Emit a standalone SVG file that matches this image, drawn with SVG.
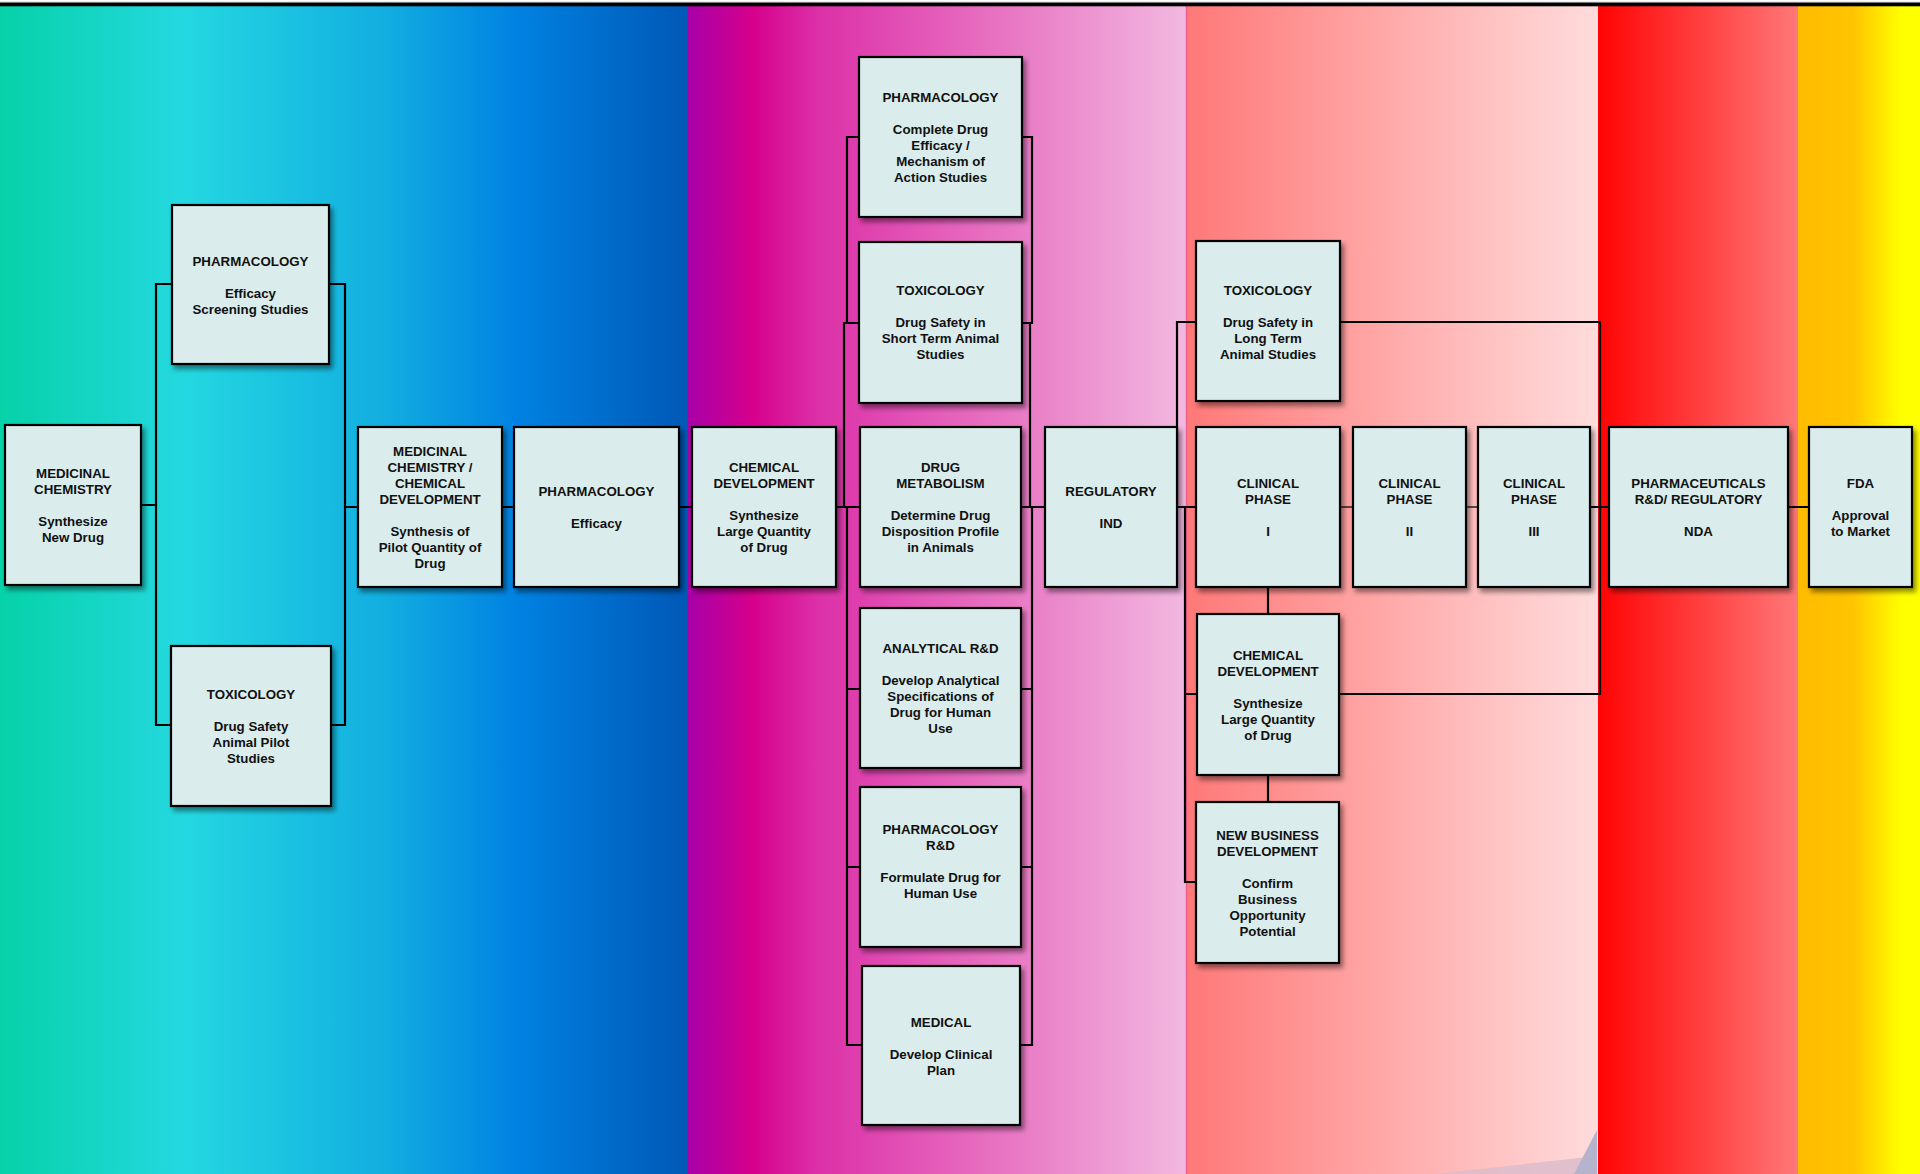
<svg xmlns="http://www.w3.org/2000/svg" width="1920" height="1174" viewBox="0 0 1920 1174">
<style>
.box{fill:#daecec;stroke:#000;stroke-width:2.2;filter:url(#sh)}
.t{font-family:"Liberation Sans",Arial,Helvetica,sans-serif;font-weight:bold;font-size:13.3px;fill:#111;text-anchor:middle}
.c{fill:none;stroke:#000;stroke-width:2.2}
.c2{fill:none;stroke:#222;stroke-width:1.6}
</style>
<defs>
<filter id="sh" x="-10%" y="-10%" width="130%" height="130%">
<feDropShadow dx="3" dy="4" stdDeviation="2.5" flood-color="#000" flood-opacity="0.45"/>
</filter>
<linearGradient id="g1" x1="0" x2="1" y1="0" y2="0">
<stop offset="0" stop-color="#06d2a8"/>
<stop offset="0.266" stop-color="#24d8e0"/>
<stop offset="0.56" stop-color="#12aee0"/>
<stop offset="0.75" stop-color="#0082e2"/>
<stop offset="1" stop-color="#0058b6"/>
</linearGradient>
<linearGradient id="g2" x1="0" x2="1" y1="0" y2="0">
<stop offset="0" stop-color="#a800a8"/>
<stop offset="0.13" stop-color="#d6008c"/>
<stop offset="0.26" stop-color="#dc30a8"/>
<stop offset="0.63" stop-color="#e874c2"/>
<stop offset="1" stop-color="#f2b8e0"/>
</linearGradient>
<linearGradient id="g3" x1="0" x2="1" y1="0" y2="0">
<stop offset="0" stop-color="#ff7878"/>
<stop offset="1" stop-color="#ffdcdc"/>
</linearGradient>
<linearGradient id="g4" x1="0" x2="1" y1="0" y2="0">
<stop offset="0" stop-color="#ff0404"/>
<stop offset="1" stop-color="#ff7878"/>
</linearGradient>
<linearGradient id="g5" x1="0" x2="1" y1="0" y2="0">
<stop offset="0" stop-color="#ffbc00"/>
<stop offset="0.45" stop-color="#ffc400"/>
<stop offset="0.85" stop-color="#ffff00"/>
<stop offset="1" stop-color="#ffff00"/>
</linearGradient>
</defs>

<g id="background">
<rect x="0" y="0" width="1920" height="1174" fill="#fff"/>
<rect x="0" y="6" width="688" height="1168" fill="url(#g1)"/>
<rect x="688" y="6" width="498" height="1168" fill="url(#g2)"/>
<rect x="1186" y="6" width="412" height="1168" fill="url(#g3)"/>
<rect x="1598" y="6" width="200" height="1168" fill="url(#g4)"/>
<rect x="1798" y="6" width="122" height="1174" fill="url(#g5)"/>
<line x1="1186.5" y1="6" x2="1186.5" y2="1174" stroke="#f0608c" stroke-width="1.5"/>
<polygon points="1435,1174 1597,1156 1597,1174" fill="#dcbccb" opacity="0.85"/>
<polygon points="1574,1174 1597,1130 1597,1174" fill="#b6b4cc"/>
<rect x="0" y="1.8" width="1920" height="1" fill="#999"/>
<rect x="0" y="2.7" width="1920" height="3.6" fill="#000"/>
</g>

<g id="connectors">
<path class="c" d="M141,505 H156 M172,284 H156 V725 H171 M329,284 H345 V725 H331 M345,507 H358 M502,507 H514 M679,507 H692"/>
<path class="c" d="M836,507 H860 M859,137 H847 V323 M859,323 H844 V507 M847,507 V1045 H862 M847,689 H860 M847,867 H860"/>
<path class="c" d="M1022,137 H1032 V323 H1022 M1030,323 V507 M1032,507 V1045 H1020 M1021,689 H1032 M1021,867 H1032 M1021,507 H1045"/>
<path class="c" d="M1177,507 H1196 M1196,322 H1177 V507 M1185,507 V882 H1196 M1185,694 H1197 M1590,507 H1609 M1340,322 H1600 V694 H1339 M1268,587 V614 M1268,775 V802 M1788,507 H1809"/>
<path class="c2" d="M1340,507 H1353 M1466,507 H1478"/>
</g>

<g id="n_medchem"><rect class="box" x="5" y="425" width="136" height="160"/>
<text class="t"><tspan x="73" y="478">MEDICINAL</tspan><tspan x="73" y="494">CHEMISTRY</tspan><tspan x="73" y="526">Synthesize</tspan><tspan x="73" y="542">New Drug</tspan></text></g>

<g id="n_pharm1"><rect class="box" x="172" y="205" width="157" height="159"/>
<text class="t"><tspan x="250.5" y="266">PHARMACOLOGY</tspan><tspan x="250.5" y="298">Efficacy</tspan><tspan x="250.5" y="314">Screening Studies</tspan></text></g>

<g id="n_tox1"><rect class="box" x="171" y="646" width="160" height="160"/>
<text class="t"><tspan x="251" y="699">TOXICOLOGY</tspan><tspan x="251" y="731">Drug Safety</tspan><tspan x="251" y="747">Animal Pilot</tspan><tspan x="251" y="763">Studies</tspan></text></g>

<g id="n_mccd"><rect class="box" x="358" y="427" width="144" height="160"/>
<text class="t"><tspan x="430" y="456">MEDICINAL</tspan><tspan x="430" y="472">CHEMISTRY /</tspan><tspan x="430" y="488">CHEMICAL</tspan><tspan x="430" y="504">DEVELOPMENT</tspan><tspan x="430" y="536">Synthesis of</tspan><tspan x="430" y="552">Pilot Quantity of</tspan><tspan x="430" y="568">Drug</tspan></text></g>

<g id="n_pharm2"><rect class="box" x="514" y="427" width="165" height="160"/>
<text class="t"><tspan x="596.5" y="496">PHARMACOLOGY</tspan><tspan x="596.5" y="528">Efficacy</tspan></text></g>

<g id="n_chemdev1"><rect class="box" x="692" y="427" width="144" height="160"/>
<text class="t"><tspan x="764" y="472">CHEMICAL</tspan><tspan x="764" y="488">DEVELOPMENT</tspan><tspan x="764" y="520">Synthesize</tspan><tspan x="764" y="536">Large Quantity</tspan><tspan x="764" y="552">of Drug</tspan></text></g>

<g id="n_pharm3"><rect class="box" x="859" y="57" width="163" height="160"/>
<text class="t"><tspan x="940.5" y="102">PHARMACOLOGY</tspan><tspan x="940.5" y="134">Complete Drug</tspan><tspan x="940.5" y="150">Efficacy /</tspan><tspan x="940.5" y="166">Mechanism of</tspan><tspan x="940.5" y="182">Action Studies</tspan></text></g>

<g id="n_tox2"><rect class="box" x="859" y="242" width="163" height="161"/>
<text class="t"><tspan x="940.5" y="295">TOXICOLOGY</tspan><tspan x="940.5" y="327">Drug Safety in</tspan><tspan x="940.5" y="343">Short Term Animal</tspan><tspan x="940.5" y="359">Studies</tspan></text></g>

<g id="n_drugmet"><rect class="box" x="860" y="427" width="161" height="160"/>
<text class="t"><tspan x="940.5" y="472">DRUG</tspan><tspan x="940.5" y="488">METABOLISM</tspan><tspan x="940.5" y="520">Determine Drug</tspan><tspan x="940.5" y="536">Disposition Profile</tspan><tspan x="940.5" y="552">in Animals</tspan></text></g>

<g id="n_analytical"><rect class="box" x="860" y="608" width="161" height="160"/>
<text class="t"><tspan x="940.5" y="653">ANALYTICAL R&amp;D</tspan><tspan x="940.5" y="685">Develop Analytical</tspan><tspan x="940.5" y="701">Specifications of</tspan><tspan x="940.5" y="717">Drug for Human</tspan><tspan x="940.5" y="733">Use</tspan></text></g>

<g id="n_pharmrd"><rect class="box" x="860" y="787" width="161" height="160"/>
<text class="t"><tspan x="940.5" y="834">PHARMACOLOGY</tspan><tspan x="940.5" y="850">R&amp;D</tspan><tspan x="940.5" y="882">Formulate Drug for</tspan><tspan x="940.5" y="898">Human Use</tspan></text></g>

<g id="n_medical"><rect class="box" x="862" y="966" width="158" height="159"/>
<text class="t"><tspan x="941" y="1027">MEDICAL</tspan><tspan x="941" y="1059">Develop Clinical</tspan><tspan x="941" y="1075">Plan</tspan></text></g>

<g id="n_regulatory"><rect class="box" x="1045" y="427" width="132" height="160"/>
<text class="t"><tspan x="1111" y="496">REGULATORY</tspan><tspan x="1111" y="528">IND</tspan></text></g>

<g id="n_tox3"><rect class="box" x="1196" y="241" width="144" height="160"/>
<text class="t"><tspan x="1268" y="295">TOXICOLOGY</tspan><tspan x="1268" y="327">Drug Safety in</tspan><tspan x="1268" y="343">Long Term</tspan><tspan x="1268" y="359">Animal Studies</tspan></text></g>

<g id="n_cp1"><rect class="box" x="1196" y="427" width="144" height="160"/>
<text class="t"><tspan x="1268" y="488">CLINICAL</tspan><tspan x="1268" y="504">PHASE</tspan><tspan x="1268" y="536">I</tspan></text></g>

<g id="n_cp2"><rect class="box" x="1353" y="427" width="113" height="160"/>
<text class="t"><tspan x="1409.5" y="488">CLINICAL</tspan><tspan x="1409.5" y="504">PHASE</tspan><tspan x="1409.5" y="536">II</tspan></text></g>

<g id="n_cp3"><rect class="box" x="1478" y="427" width="112" height="160"/>
<text class="t"><tspan x="1534" y="488">CLINICAL</tspan><tspan x="1534" y="504">PHASE</tspan><tspan x="1534" y="536">III</tspan></text></g>

<g id="n_chemdev2"><rect class="box" x="1197" y="614" width="142" height="161"/>
<text class="t"><tspan x="1268" y="660">CHEMICAL</tspan><tspan x="1268" y="676">DEVELOPMENT</tspan><tspan x="1268" y="708">Synthesize</tspan><tspan x="1268" y="724">Large Quantity</tspan><tspan x="1268" y="740">of Drug</tspan></text></g>

<g id="n_newbus"><rect class="box" x="1196" y="802" width="143" height="161"/>
<text class="t"><tspan x="1267.5" y="840">NEW BUSINESS</tspan><tspan x="1267.5" y="856">DEVELOPMENT</tspan><tspan x="1267.5" y="888">Confirm</tspan><tspan x="1267.5" y="904">Business</tspan><tspan x="1267.5" y="920">Opportunity</tspan><tspan x="1267.5" y="936">Potential</tspan></text></g>

<g id="n_nda"><rect class="box" x="1609" y="427" width="179" height="160"/>
<text class="t"><tspan x="1698.5" y="488">PHARMACEUTICALS</tspan><tspan x="1698.5" y="504">R&amp;D/ REGULATORY</tspan><tspan x="1698.5" y="536">NDA</tspan></text></g>

<g id="n_fda"><rect class="box" x="1809" y="427" width="103" height="160"/>
<text class="t"><tspan x="1860.5" y="488">FDA</tspan><tspan x="1860.5" y="520">Approval</tspan><tspan x="1860.5" y="536">to Market</tspan></text></g>
</svg>
